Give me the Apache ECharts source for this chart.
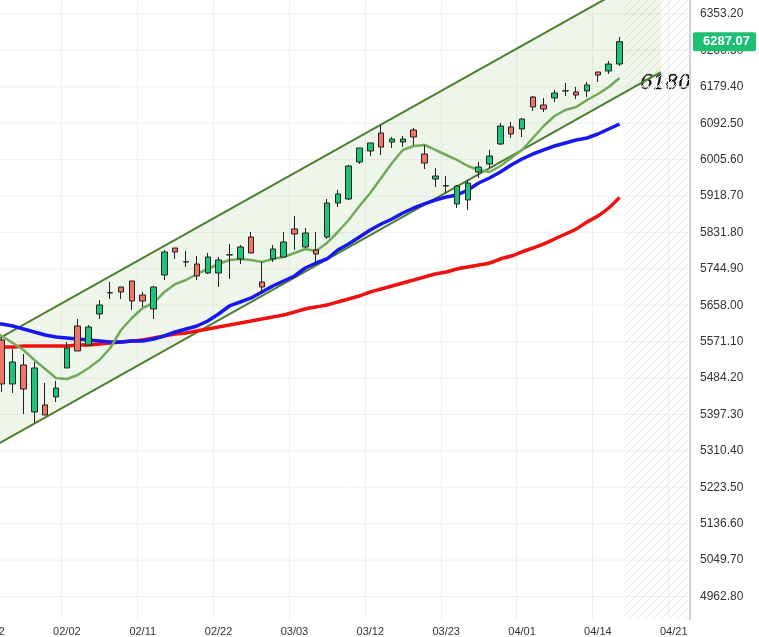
<!DOCTYPE html>
<html><head><meta charset="utf-8">
<script src="https://cdn.jsdelivr.net/npm/echarts@6/dist/echarts.min.js"></script>
<style>html,body{margin:0;padding:0;background:#fff}#c{width:759px;height:637px}</style>
</head><body><div id="c"></div>
<script>
const dateLabels = {7:'02/02',14:'02/11',21:'02/22',28:'03/03',35:'03/12',42:'03/23',49:'04/01',56:'04/14',63:'04/21'};
const firstLabel = '01/22';
const totalSlots = 65;
// candles [open, close, low, high]
const candles = [
[5560,5590,5540,5600],
[5575,5470,5450.9,5579.8],
[5470,5522.5,5448.5,5553.5],
[5515.3,5458.1,5398.4,5541.6],
[5403.2,5508.2,5376.9,5522.5],
[5419.9,5396,5396,5472.4],
[5439,5460.4,5427,5477.2],
[5508.2,5555.9,5508.2,5570.2],
[5608.4,5548.8,5548.8,5625.1],
[5563.1,5606.1,5563.1,5610.8],
[5637.1,5658.6,5625.1,5670.5],
[5687.2,5688,5672.9,5713.5],
[5701.5,5689.6,5672.9,5701.5],
[5715.9,5668.1,5646.6,5715.9],
[5682.4,5668.1,5653.8,5689.6],
[5649,5701.5,5625.1,5703.9],
[5730.2,5785.1,5718.2,5789.8],
[5794.6,5785.1,5768.4,5794.6],
[5761.2,5762,5749.3,5787.5],
[5756.4,5727.8,5718.2,5775.5],
[5734.9,5773.1,5732.6,5782.7],
[5734.9,5766,5701.5,5773.1],
[5777.9,5778.5,5720.6,5804.2],
[5768.4,5797,5756.4,5801.8],
[5820.9,5782.7,5782.7,5832.8],
[5713.5,5701.5,5687.2,5761.2],
[5768.4,5792.2,5761.2,5801.8],
[5773.1,5808.9,5773.1,5832.8],
[5840,5828,5789.8,5871],
[5797,5830.4,5794.6,5842.4],
[5789.8,5780.3,5758.8,5832.8],
[5820.9,5902,5816.1,5911.6],
[5902,5923.5,5892.5,5933.1],
[5911.6,5990.4,5909.2,5992.7],
[5999.9,6033.3,5995.1,6033.3],
[6026.2,6045.3,6014.2,6045.3],
[6069.1,6035.7,6016.6,6088.2],
[6047.6,6054.8,6033.3,6059.6],
[6047.6,6054.8,6035.7,6062],
[6076.3,6059.6,6040.5,6081.1],
[6019,5997.5,5983.2,6040.5],
[5959.3,5966.5,5940.2,5985.6],
[5942.6,5943.5,5925.9,5966.5],
[5899.7,5942.6,5890.1,5945],
[5909.2,5949.8,5885.3,5956.9],
[5976,5988,5961.7,5999.9],
[5995.1,6014.2,5985.6,6028.6],
[6042.9,6085.8,6040.5,6093],
[6083.5,6066.7,6057.2,6095.4],
[6078.7,6102.5,6059.6,6104.9],
[6155.1,6131.2,6121.6,6157.4],
[6136,6126.4,6119.3,6152.7],
[6152.7,6164.6,6143.1,6171.8],
[6169.4,6170,6157.4,6188.5],
[6167,6159.8,6150.3,6178.9],
[6169.4,6183.7,6155.1,6190.9],
[6214.7,6207.6,6190.9,6214.7],
[6217.1,6233.8,6210,6241],
[6233.8,6287.07,6229.1,6298.3]
];
const maShort = [5598.9,5584.6,5567.9,5551.1,5527.3,5505.8,5484.3,5481.9,5491.5,5508.2,5527.3,5555.9,5598.9,5627.5,5651.4,5663.3,5689.6,5708.7,5718.2,5732.6,5744.5,5756.4,5766,5768.4,5766,5761.2,5768.4,5773.1,5782.7,5792.2,5787.5,5806.6,5832.8,5861.5,5894.9,5925.9,5961.7,5997.5,6028.6,6038.1,6040.5,6028.6,6016.6,6004.7,5990.4,5980.8,5976,5990.4,6009.5,6028.6,6057.2,6085.8,6109.7,6124,6131.2,6147.9,6162.2,6178.9,6200.4];
const maMid = [5613.2,5613.2,5608.4,5601.3,5594.1,5587,5582.2,5579.8,5577.4,5575,5572.6,5570.2,5570.2,5572.6,5572.6,5577.4,5584.6,5594.1,5601.3,5608.4,5620.4,5637.1,5656.2,5665.7,5675.3,5689.6,5703.9,5715.9,5727.8,5746.9,5758.8,5768.4,5789.8,5804.2,5820.9,5837.6,5851.9,5863.8,5878.2,5890.1,5899.7,5909.2,5916.4,5921.1,5933.1,5949.8,5961.7,5976,5992.7,6007.1,6019,6028.6,6038.1,6045.3,6052.4,6057.2,6066.7,6078.7,6090.6];
const maLong = [5558.3,5558.3,5558.3,5560.7,5560.7,5560.7,5560.7,5560.7,5563.1,5563.1,5565.5,5567.9,5570.2,5572.6,5575,5579.8,5584.6,5589.3,5591.7,5596.5,5601.3,5606.1,5610.8,5615.6,5620.4,5625.1,5629.9,5634.7,5641.9,5649,5653.8,5658.6,5665.7,5672.9,5680,5689.6,5696.8,5703.9,5711.1,5718.2,5725.4,5732.6,5737.3,5744.5,5749.3,5754,5758.8,5768.4,5775.5,5785.1,5794.6,5804.2,5816.1,5828,5840,5856.7,5870.8,5890,5915.5];
const channelLower = [[-0.5,5310],[61.8,6214.7]];
const channelUpper = [[-0.5,5561],[61.8,6463]];
const yTicks = [4962.8,5049.7,5136.6,5223.5,5310.4,5397.3,5484.2,5571.1,5658,5744.9,5831.8,5918.7,6005.6,6092.5,6179.4,6266.3,6353.2];
const lastPrice = 6287.07;
const noteText = '6180';
const futureStart = 58.5;

const cats = [];
for (let i=0;i<totalSlots;i++) cats.push(i===0?firstLabel:(dateLabels[i]||''));

const pc = document.createElement('canvas'); pc.width=8; pc.height=8;
const g = pc.getContext('2d'); g.strokeStyle='#e4e4e4'; g.lineWidth=1;
g.beginPath(); g.moveTo(0,8); g.lineTo(8,0); g.moveTo(-2,2); g.lineTo(2,-2); g.moveTo(6,10); g.lineTo(10,6); g.stroke();

const chart = echarts.init(document.getElementById('c'));
const labelIdx = [0].concat(Object.keys(dateLabels).map(Number));
const yBase = {type:'value',position:'right',min:4909,max:6386.6,axisTick:{show:false},splitLine:{show:false}};
chart.setOption({
  animation:false,
  grid:{left:-14.4,right:69,top:0,bottom:18,containLabel:false,outerBoundsMode:'none'},
  xAxis:[{type:'category',data:cats,boundaryGap:true,
    axisLine:{show:false},axisTick:{show:false},
    axisLabel:{interval:(i)=>labelIdx.includes(i),color:'#333',fontSize:11,fontFamily:'Arial, Liberation Sans',margin:7},
    splitLine:{show:true,interval:(i)=>labelIdx.includes(i)&&i>0,lineStyle:{color:'#efefef'}}},
   {type:'value',min:-0.5,max:totalSlots-0.5,show:false}],
  yAxis:[Object.assign({},yBase,{
    axisLine:{show:true,onZero:false,lineStyle:{color:'#d0d0d0',width:2}},
    axisLabel:{customValues:yTicks,formatter:v=>v.toFixed(2),color:'#333',fontSize:12,fontFamily:'Arial, Liberation Sans',margin:10}}),
   Object.assign({},yBase,{
    axisLine:{show:false,onZero:false},
    axisLabel:{customValues:[lastPrice],formatter:v=>v.toFixed(2),color:'#fff',backgroundColor:'#1cbf73',
      padding:[3,6,3,10],borderRadius:2,fontSize:13,fontWeight:'bold',fontFamily:'Arial, Liberation Sans',margin:3}})],
  series:[
    {type:'custom',xAxisIndex:1,z:1,silent:true,
     data:[0],
     renderItem:(p,api)=>{
       const a=api.coord([futureStart,6386.6]), b=api.coord([totalSlots-0.5,4909]);
       const lines=yTicks.map(v=>{const l=api.coord([-0.5,v]);const r=api.coord([totalSlots-0.5,v]);
         return {type:'line',shape:{x1:l[0],y1:l[1],x2:r[0],y2:r[1]},style:{stroke:'#efefef',lineWidth:1}};});
       return {type:'group',children:lines.concat([{type:'rect',shape:{x:a[0],y:a[1],width:b[0]-a[0],height:b[1]-a[1]},style:{fill:{image:pc,repeat:'repeat'}}}])};
     }},
    {type:'custom',xAxisIndex:1,z:2,silent:true,clip:true,data:[0],
     renderItem:(p,api)=>{
       const pts=[channelLower[0],channelLower[1],channelUpper[1],channelUpper[0]].map(d=>api.coord(d));
       return {type:'polygon',shape:{points:pts},style:{fill:'rgba(120,180,90,0.13)'}};
     }},
    {type:'line',xAxisIndex:1,data:channelLower,symbol:'none',z:3,lineStyle:{color:'#4a7f2c',width:2},clip:true},
    {type:'line',xAxisIndex:1,data:channelUpper,symbol:'none',z:3,lineStyle:{color:'#4a7f2c',width:2},clip:true},
    {type:'line',data:maLong,symbol:'none',z:4,smooth:0.3,lineStyle:{color:'#f01010',width:3.5}},
    {type:'line',data:maMid,symbol:'none',z:4,lineStyle:{color:'#1818ee',width:3.5}},
    {type:'line',data:maShort,symbol:'none',z:4,lineStyle:{color:'#73a95a',width:2.5}},
    {type:'candlestick',data:candles,barWidth:6,z:5,
     itemStyle:{color:'#1cc477',color0:'#ef7466',borderColor:'#222',borderColor0:'#222',borderWidth:1}}
  ],
  graphic:[{type:'text',left:640,top:74,style:{text:noteText,font:'italic 20px "DejaVu Serif"',fill:'#111',stroke:'#111',lineWidth:0.3}}]
});
</script></body></html>
